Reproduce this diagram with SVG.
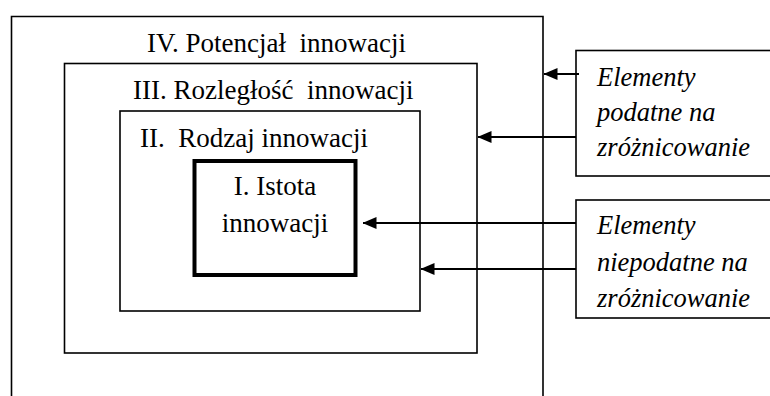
<svg xmlns="http://www.w3.org/2000/svg" width="770" height="396" viewBox="0 0 770 396">
  <style>
    .frame { fill: none; stroke: #000; stroke-width: 1.6; }
    .core { fill: none; stroke: #000; stroke-width: 4; }
    .lbl { font-family: "Liberation Serif", "Times New Roman", serif; font-size: 27px; fill: #000; white-space: pre; }
    .note { font-family: "Liberation Serif", "Times New Roman", serif; font-size: 26.5px; font-style: italic; fill: #000; }
    .conn { stroke: #000; stroke-width: 2.2; fill: none; }
  </style>
  <defs>
    <marker id="head" viewBox="0 0 14 12" refX="13.5" refY="6" markerWidth="14" markerHeight="12" markerUnits="userSpaceOnUse" orient="auto">
      <path d="M14,6 L0,0 L0,12 Z" fill="#000"/>
    </marker>
  </defs>
  <rect width="770" height="396" fill="#fff"/>

  <g id="level-iv">
    <path class="frame" d="M11.5,400 V16.5 H543 V400"/>
    <text class="lbl" x="147" y="52" xml:space="preserve">IV. Potencjał  innowacji</text>
  </g>

  <g id="level-iii">
    <rect class="frame" x="64.5" y="63.5" width="412.5" height="289.5"/>
    <text class="lbl" x="133" y="99" xml:space="preserve">III. Rozległość  innowacji</text>
  </g>

  <g id="level-ii">
    <rect class="frame" x="120" y="111" width="300" height="200"/>
    <text class="lbl" x="140" y="147" xml:space="preserve">II.  Rodzaj innowacji</text>
  </g>

  <g id="level-i">
    <rect class="core" x="194.5" y="161" width="161" height="114"/>
    <text class="lbl" x="275" y="195" text-anchor="middle">I. Istota</text>
    <text class="lbl" x="275" y="232" text-anchor="middle">innowacji</text>
  </g>

  <g id="susceptible">
    <rect class="frame" x="576" y="50.5" width="200" height="125.5"/>
    <text class="note" x="597" y="86">Elementy</text>
    <text class="note" x="597" y="121">podatne na</text>
    <text class="note" x="597" y="156">zróżnicowanie</text>
  </g>

  <g id="non-susceptible">
    <rect class="frame" x="576" y="200" width="200" height="118"/>
    <text class="note" x="597" y="234">Elementy</text>
    <text class="note" x="597" y="271">niepodatne na</text>
    <text class="note" x="597" y="307">zróżnicowanie</text>
  </g>

  <g id="connectors">
    <line class="conn" x1="579" y1="74" x2="544" y2="74" marker-end="url(#head)"/>
    <line class="conn" x1="576" y1="137" x2="478" y2="137" marker-end="url(#head)"/>
    <line class="conn" x1="576" y1="223" x2="363" y2="223" marker-end="url(#head)"/>
    <line class="conn" x1="576" y1="269" x2="421" y2="269" marker-end="url(#head)"/>
  </g>
</svg>
